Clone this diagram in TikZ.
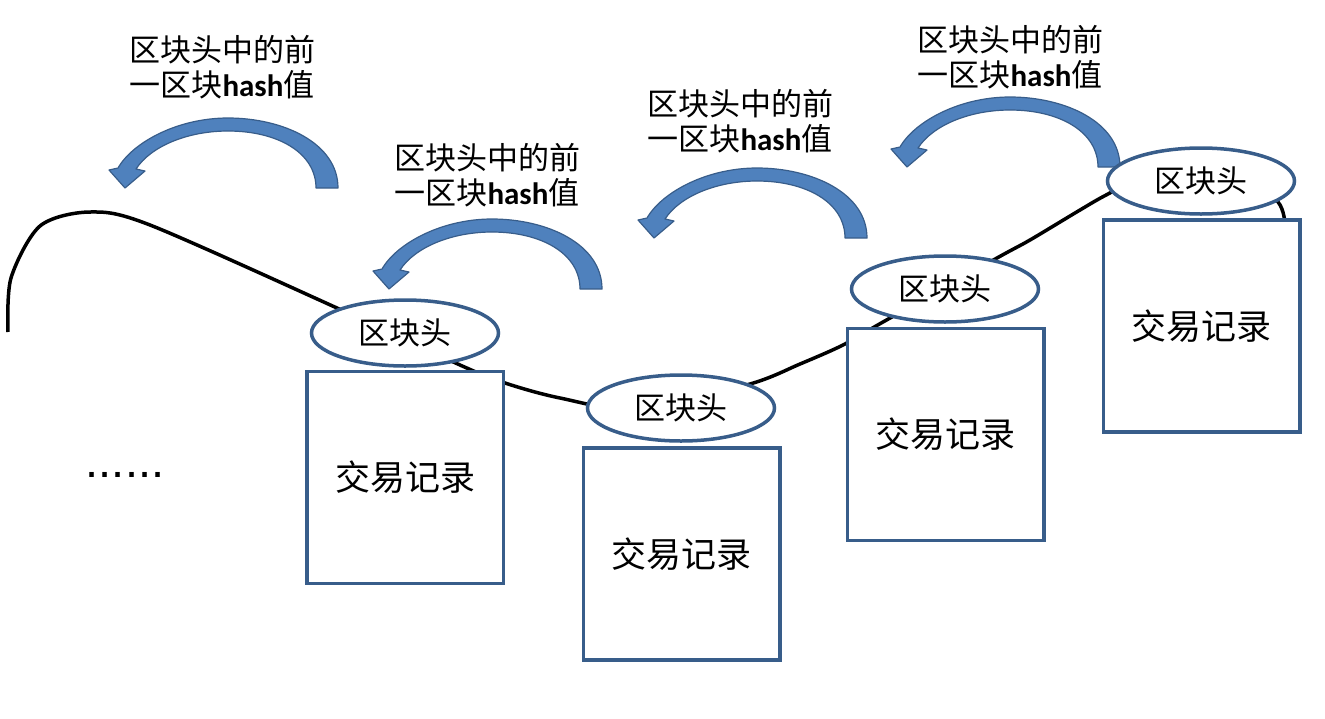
\documentclass[tikz,border=0pt]{standalone}
\usepackage{fontspec}
\setmainfont{Liberation Sans}
\newfontfamily\cjk{Noto Sans CJK SC}
\newfontfamily\lat{Carlito}
\usetikzlibrary{shapes.geometric}
\definecolor{edgeblue}{RGB}{56,93,138}
\definecolor{arrowfill}{RGB}{79,129,189}
\definecolor{arrowedge}{RGB}{56,93,138}
\tikzset{
  hdr/.style={ellipse, draw=edgeblue, line width=3.5pt, fill=white,
    minimum width=187pt, minimum height=66pt, inner sep=0pt,
    font=\cjk\fontsize{31}{31}\selectfont},
  rec/.style={rectangle, draw=edgeblue, line width=3.5pt, fill=white,
    minimum width=196.5pt, minimum height=212pt, inner sep=0pt,
    font=\cjk\fontsize{35}{35}\selectfont},
  lbl/.style={align=center, inner sep=0pt, font=\cjk\fontsize{31}{35}\selectfont},
  chain/.style={line width=3.5pt, black},
  pics/curvarrow/.style={code={
    \filldraw[fill=arrowfill, draw=arrowedge, line width=1.2pt, line join=round]
      (0,0) .. controls (0,-45) and (-55,-70) .. (-110,-70)
      .. controls (-160,-70) and (-205,-46) .. (-220,-20)
      -- (-229,-18) -- (-213,0) -- (-193,-17) -- (-202,-19)
      .. controls (-187,-42) and (-150,-57) .. (-110,-57)
      .. controls (-60,-57) and (-22,-35) .. (-22,0) -- cycle;
  }}
}
\begin{document}
\begin{tikzpicture}[x=1pt,y=-1pt]
\useasboundingbox (0,0) rectangle (1325,718);
% curved arrows
\pic (a1) at (338,188) {curvarrow};
\pic (a2) at (602,289) {curvarrow};
\pic (a3) at (867,238) {curvarrow};
\pic (a4) at (1120,167) {curvarrow};
% chain line
\coordinate (cstart) at (8,332);
\coordinate (cend) at (1285,224);
\draw[chain] plot[smooth, tension=0.5] coordinates {
  (cstart) (11,278) (40,226) (90,212) (150,225) (337,308) (460,365) (505,383)
  (560,398) (640,410) (750,384) (800,364) (843,345) (883,322)
  (997,258) (1030,240) (1080,210) (1108,194) (1170,163) (1240,172) (1278,202) (cend)};
% boxes
\node[rec] (b1) at (405,477.5) {交易记录};
\node[rec] (b2) at (681.5,554) {交易记录};
\node[rec] (b3) at (945.5,434.5) {交易记录};
\node[rec] (b4) at (1201.5,326) {交易记录};
% headers
\node[hdr] (h1) at (405,333) {区块头};
\node[hdr] (h2) at (681,408) {区块头};
\node[hdr] (h3) at (945,289) {区块头};
\node[hdr] (h4) at (1201,181) {区块头};
% labels
\node[lbl] (l1) at (222,67) {区块头中的前\\一区块{\lat\bfseries hash}值};
\node[lbl] (l2) at (487,175) {区块头中的前\\一区块{\lat\bfseries hash}值};
\node[lbl] (l3) at (740,121) {区块头中的前\\一区块{\lat\bfseries hash}值};
\node[lbl] (l4) at (1010,57) {区块头中的前\\一区块{\lat\bfseries hash}值};
% dots
\node[anchor=base, inner sep=0pt, font=\fontsize{47}{47}\selectfont] (dots) at (125,477) {......};
\end{tikzpicture}
\end{document}
